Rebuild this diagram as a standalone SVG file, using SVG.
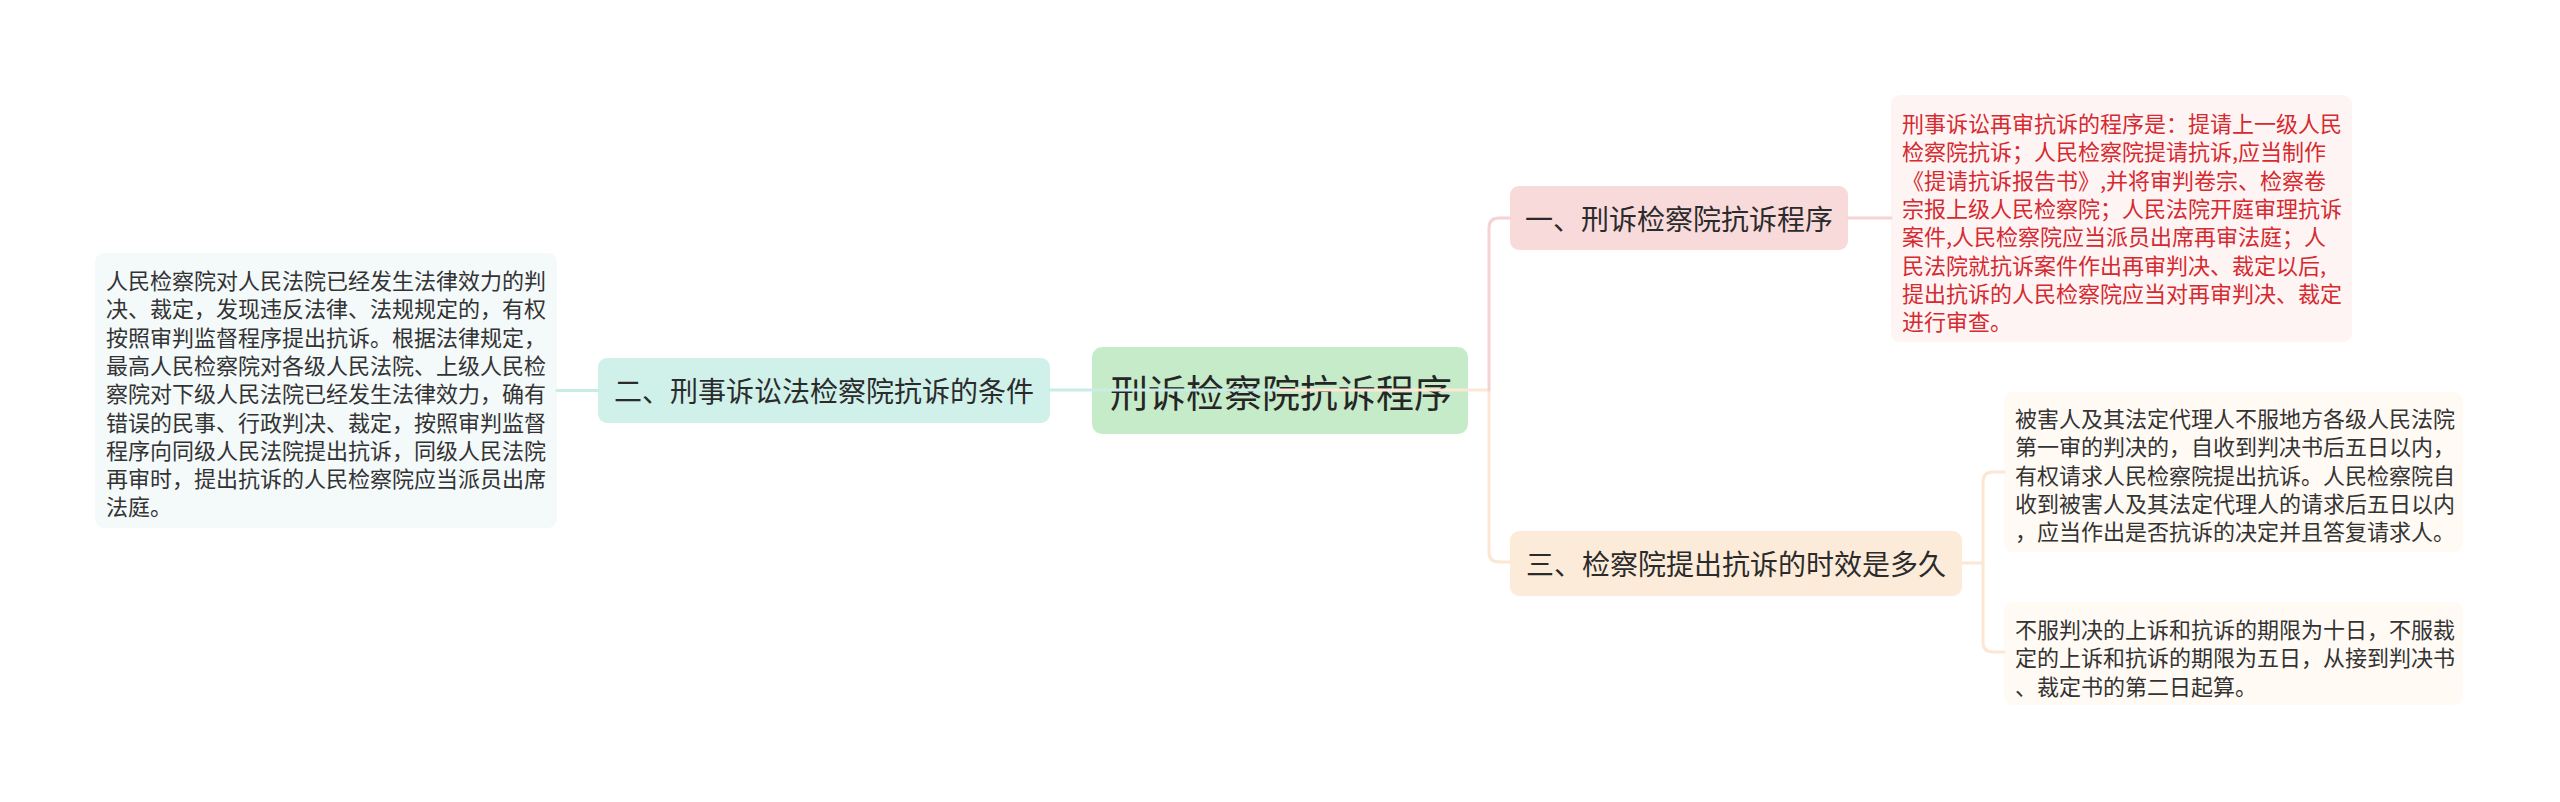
<svg xmlns="http://www.w3.org/2000/svg" width="2560" height="802" viewBox="0 0 2560 802">
<style>
text{font-family:"Noto Sans CJK SC","Noto Sans",sans-serif;dominant-baseline:central}
.leaf{font-size:22px;fill:#333}
.red{font-size:22px;fill:#d42a30}
.sub{font-size:28px;fill:#2b2b2b;text-anchor:middle}
.root{font-size:38px;fill:#262626;text-anchor:middle}
.c{fill:none;stroke-width:3;stroke-linecap:round}
.teal{stroke:#c9ece6}
.pink{stroke:#f6d3d3}
.peach{stroke:#fbe7d4}
</style>
<rect width="2560" height="802" fill="#ffffff"/>
<g id="root">
<rect x="1092" y="347" width="376" height="87" rx="10" fill="#c6ebc9"/>
<text class="root" x="1281" y="390">刑诉检察院抗诉程序</text>
</g>
<g id="node2">
<rect x="598" y="358" width="452" height="65" rx="9" fill="#d0f0ea"/>
<text class="sub" x="824" y="390">二、刑事诉讼法检察院抗诉的条件</text>
</g>
<g id="leaf2">
<rect x="95" y="253" width="462" height="275" rx="9" fill="#f4f9fa"/>
<text class="leaf" x="106" y="279">人民检察院对人民法院已经发生法律效力的判</text>
<text class="leaf" x="106" y="307.3">决、裁定，发现违反法律、法规规定的，有权</text>
<text class="leaf" x="106" y="335.6">按照审判监督程序提出抗诉。根据法律规定，</text>
<text class="leaf" x="106" y="363.9">最高人民检察院对各级人民法院、上级人民检</text>
<text class="leaf" x="106" y="392.2">察院对下级人民法院已经发生法律效力，确有</text>
<text class="leaf" x="106" y="420.5">错误的民事、行政判决、裁定，按照审判监督</text>
<text class="leaf" x="106" y="448.8">程序向同级人民法院提出抗诉，同级人民法院</text>
<text class="leaf" x="106" y="477.1">再审时，提出抗诉的人民检察院应当派员出席</text>
<text class="leaf" x="106" y="505.4">法庭。</text>
</g>
<g id="node1">
<rect x="1510" y="186" width="338" height="64" rx="9" fill="#f9dada"/>
<text class="sub" x="1679" y="218">一、刑诉检察院抗诉程序</text>
</g>
<g id="leaf1">
<rect x="1891" y="95" width="461" height="247" rx="9" fill="#fff4f4"/>
<text class="red" x="1902" y="122">刑事诉讼再审抗诉的程序是：提请上一级人民</text>
<text class="red" x="1902" y="150.3">检察院抗诉；人民检察院提请抗诉,应当制作</text>
<text class="red" x="1902" y="178.6">《提请抗诉报告书》,并将审判卷宗、检察卷</text>
<text class="red" x="1902" y="206.9">宗报上级人民检察院；人民法院开庭审理抗诉</text>
<text class="red" x="1902" y="235.2">案件,人民检察院应当派员出席再审法庭；人</text>
<text class="red" x="1902" y="263.5">民法院就抗诉案件作出再审判决、裁定以后,</text>
<text class="red" x="1902" y="291.8">提出抗诉的人民检察院应当对再审判决、裁定</text>
<text class="red" x="1902" y="320.1">进行审查。</text>
</g>
<g id="node3">
<rect x="1510" y="531" width="452" height="65" rx="9" fill="#fdebda"/>
<text class="sub" x="1736" y="563">三、检察院提出抗诉的时效是多久</text>
</g>
<g id="leaf3a">
<rect x="2004" y="392" width="459" height="160" rx="9" fill="#fffaf4"/>
<text class="leaf" x="2015" y="417">被害人及其法定代理人不服地方各级人民法院</text>
<text class="leaf" x="2015" y="445.3">第一审的判决的，自收到判决书后五日以内，</text>
<text class="leaf" x="2015" y="473.6">有权请求人民检察院提出抗诉。人民检察院自</text>
<text class="leaf" x="2015" y="501.9">收到被害人及其法定代理人的请求后五日以内</text>
<text class="leaf" x="2015" y="530.2">，应当作出是否抗诉的决定并且答复请求人。</text>
</g>
<g id="leaf3b">
<rect x="2004" y="602" width="459" height="103" rx="9" fill="#fffaf4"/>
<text class="leaf" x="2015" y="628">不服判决的上诉和抗诉的期限为十日，不服裁</text>
<text class="leaf" x="2015" y="656.3">定的上诉和抗诉的期限为五日，从接到判决书</text>
<text class="leaf" x="2015" y="684.6">、裁定书的第二日起算。</text>
</g>
<g id="connectors">
<path class="c teal" d="M557 390.5H598"/>
<path class="c teal" d="M1050 390H1280"/>
<path class="c peach" d="M1280 390H1489V552Q1489 562 1499 562H1510"/>
<path class="c pink" d="M1489 390V228Q1489 218 1499 218H1510"/>
<path class="c pink" d="M1848 218H1891"/>
<path class="c peach" d="M1962 563H1983V482Q1983 472 1993 472H2004"/>
<path class="c peach" d="M1983 563V642Q1983 652 1993 652H2004"/>
</g>
</svg>
